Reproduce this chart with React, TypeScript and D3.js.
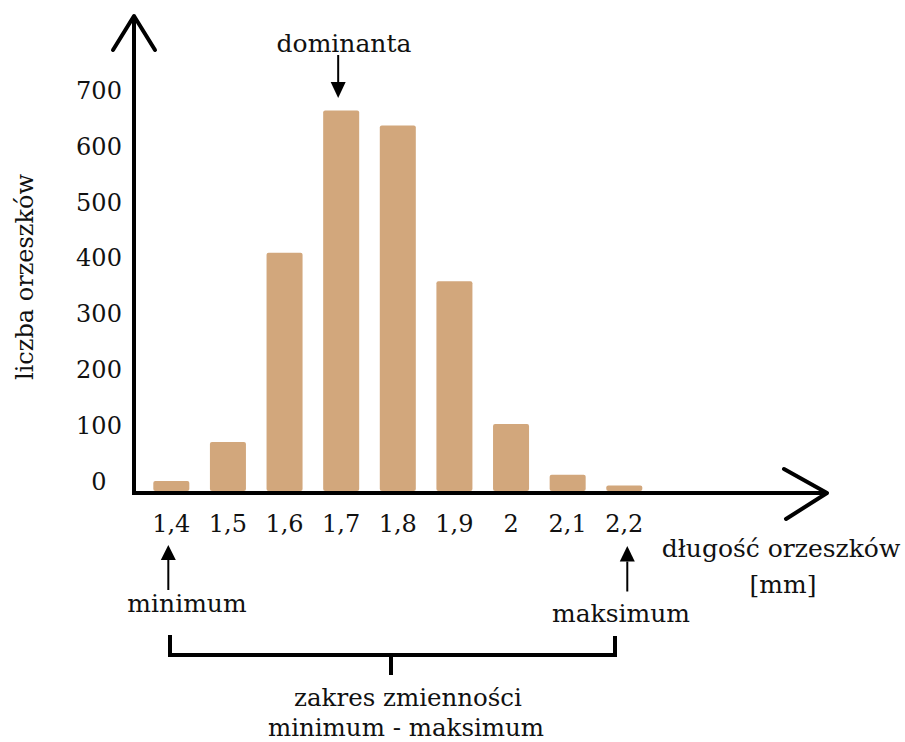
import React from "react";
import * as d3 from "d3";

const categories = ["1,4", "1,5", "1,6", "1,7", "1,8", "1,9", "2", "2,1", "2,2"];
const counts = [18, 88, 427, 682, 655, 376, 120, 29, 10];
const yTicks = [0, 100, 200, 300, 400, 500, 600, 700];

const W = 905;
const H = 742;
const FONT = "'DejaVu Serif', serif";
const BAR = "#D2A77C";

export default function App() {
  const x = d3
    .scaleBand<string>()
    .domain(categories)
    .range([143, 652.6])
    .paddingInner(0.364)
    .paddingOuter(0.182);
  const y = d3.scaleLinear().domain([0, 700]).range([491, 100.4]);

  const cx = (c: string) => (x(c) as number) + x.bandwidth() / 2;
  const axisY = 493;
  const axisX = 134;

  const upArrow = (px: number, tip: number, base: number, bottom: number) => (
    <g>
      <line x1={px} x2={px} y1={base} y2={bottom} stroke="#000" strokeWidth={2} />
      <path d={`M${px},${tip} L${px - 7.5},${base} L${px + 7.5},${base} Z`} fill="#000" />
    </g>
  );

  return (
    <svg
      width={W}
      height={H}
      style={{ position: "absolute", left: 0, top: 0, display: "block", background: "#fff" }}
      fontFamily={FONT}
    >
      <rect width={W} height={H} fill="#fff" />
      {/* bars */}
      {categories.map((c, i) => (
        <rect
          key={c}
          x={x(c)}
          y={y(counts[i])}
          width={x.bandwidth()}
          height={y(0) - y(counts[i])}
          fill={BAR}
          rx={2}
        />
      ))}

      {/* axes */}
      <line x1={axisX} x2={axisX} y1={axisY + 2} y2={17} stroke="#000" strokeWidth={4} />
      <path
        d={`M113,50 L${axisX},16 L155,50`}
        fill="none"
        stroke="#000"
        strokeWidth={4}
        strokeLinecap="round"
        strokeLinejoin="round"
      />
      <line x1={axisX - 2} x2={826} y1={axisY} y2={axisY} stroke="#000" strokeWidth={4} />
      <path
        d={`M784,469 L827,${axisY} L786,519`}
        fill="none"
        stroke="#000"
        strokeWidth={4}
        strokeLinecap="round"
        strokeLinejoin="round"
      />

      {/* y tick labels */}
      {yTicks.map((t) => (
        <text key={t} x={99} y={y(t) - 1.5} fontSize={24} textAnchor="middle" fill="#111">
          {t}
        </text>
      ))}

      {/* x tick labels */}
      {categories.map((c) => (
        <text key={c} x={cx(c)} y={532} fontSize={24} textAnchor="middle" fill="#111">
          {c}
        </text>
      ))}

      {/* axis titles */}
      <text
        transform="translate(33,277) rotate(-90)"
        fontSize={24}
        textAnchor="middle"
        fill="#111"
      >
        liczba orzeszków
      </text>
      <text x={781} y={557} fontSize={25} textAnchor="middle" fill="#111">
        długość orzeszków
      </text>
      <text x={783} y={593} fontSize={25} textAnchor="middle" fill="#111">
        [mm]
      </text>

      {/* dominanta */}
      <text x={344} y={52} fontSize={25} textAnchor="middle" fill="#111">
        dominanta
      </text>
      <line x1={cx("1,7") - 3} x2={cx("1,7") - 3} y1={55} y2={84} stroke="#000" strokeWidth={2} />
      <path
        d={`M${cx("1,7") - 3},98 L${cx("1,7") - 10.5},82 L${cx("1,7") + 4.5},82 Z`}
        fill="#000"
      />

      {/* minimum / maksimum */}
      {upArrow(cx("1,4") - 3, 545, 560, 590)}
      <text x={187} y={612} fontSize={25} textAnchor="middle" fill="#111">
        minimum
      </text>
      {upArrow(cx("2,2") + 3, 546, 561.5, 591.5)}
      <text x={621} y={622} fontSize={25} textAnchor="middle" fill="#111">
        maksimum
      </text>

      {/* bracket */}
      <path
        d="M170,635 L170,655 L615,655 L615,636"
        fill="none"
        stroke="#000"
        strokeWidth={4}
      />
      <line x1={391} x2={391} y1={655} y2={675} stroke="#000" strokeWidth={4} />
      <text x={408} y={706} fontSize={24.5} textAnchor="middle" fill="#111">
        zakres zmienności
      </text>
      <text x={406} y={736} fontSize={24.5} textAnchor="middle" fill="#111">
        minimum - maksimum
      </text>
    </svg>
  );
}
